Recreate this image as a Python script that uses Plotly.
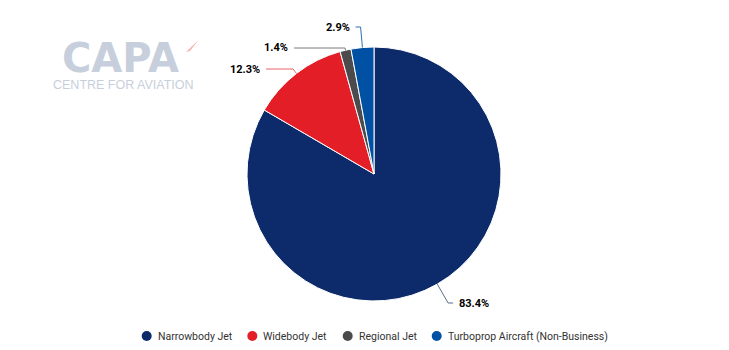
import math
import plotly.graph_objects as go

# ---- data ----
categories = ["Narrowbody Jet", "Widebody Jet", "Regional Jet", "Turboprop Aircraft (Non-Business)"]
shares = [83.4, 12.3, 1.4, 2.9]
pct_labels = ["83.4%", "12.3%", "1.4%", "2.9%"]

# ---- style ----
colors = ["#0d2b6b", "#e31e26", "#4b4b4d", "#0051a3"]
line_colors = ["#5a6b8c", "#e8646a", "#7a7a7a", "#2f6fb5"]
W, H = 729, 350
CX, CY, R = 374, 174, 127
# per-label style: label y (px) and horizontal connector length (px)
label_y = [303, 69, 48, 27]
conn_len = [5, 27, 51, 5]
# legend layout (px)
legend_marker_x = [146.7, 252.3, 347.7, 436.7]
legend_y = 336
logo_color = "#c8cfdc"


def px(x):
    return x / W


def py(y):
    return (H - y) / H


fig = go.Figure()
fig.add_trace(go.Pie(
    labels=categories, values=shares, sort=False, direction="clockwise", rotation=0,
    marker=dict(colors=colors, line=dict(color="white", width=1)),
    textinfo="none", hoverinfo="label+percent", showlegend=False,
    domain=dict(x=[px(CX - R), px(CX + R)], y=[py(CY + R), py(CY - R)]),
))

shapes = []
annotations = []
total = sum(shares)
cum = 0.0
for i, v in enumerate(shares):
    mid = (cum + v / 2) / total * 2 * math.pi
    cum += v
    s, c = math.sin(mid), math.cos(mid)
    x0, y0 = CX + R * s, CY - R * c
    rr = (CY - label_y[i]) / c
    xe, ye = CX + rr * s, label_y[i]
    side = 1 if s > 0 else -1
    xl = xe + side * conn_len[i]
    shapes.append(dict(type="path", xref="paper", yref="paper",
                       path=f"M {px(x0)} {py(y0)} L {px(xe)} {py(ye)} L {px(xl)} {py(ye)}",
                       line=dict(color=line_colors[i], width=1)))
    annotations.append(dict(xref="paper", yref="paper", x=px(xl + side * 4), y=py(ye),
                            text=f"<b>{pct_labels[i]}</b>", showarrow=False,
                            xanchor="left" if side > 0 else "right", yanchor="middle",
                            font=dict(family="Roboto", size=11, color="#000000")))

# legend (circle markers + labels)
for name, col, mx in zip(categories, colors, legend_marker_x):
    shapes.append(dict(type="circle", xref="paper", yref="paper",
                       x0=px(mx - 5), x1=px(mx + 5), y0=py(legend_y + 5), y1=py(legend_y - 5),
                       fillcolor=col, line=dict(width=0)))
    annotations.append(dict(xref="paper", yref="paper", x=px(mx + 9), y=py(legend_y),
                            text=name, showarrow=False, xanchor="left", yanchor="middle",
                            font=dict(family="Roboto", size=10.5, color="#333333")))

# watermark logo
annotations.append(dict(xref="paper", yref="paper", x=px(120), y=py(58), text="<b>CAPA</b>",
                        showarrow=False, xanchor="center", yanchor="middle",
                        font=dict(family="DejaVu Sans", size=40, color=logo_color)))
annotations.append(dict(xref="paper", yref="paper", x=px(51), y=py(85), text="CENTRE FOR AVIATION",
                        showarrow=False, xanchor="left", yanchor="middle",
                        font=dict(family="Liberation Sans", size=12.5, color=logo_color)))
shapes.append(dict(type="path", xref="paper", yref="paper",
                   path=f"M {px(186)} {py(52)} L {px(198.5)} {py(40)} L {px(190)} {py(51)} Z",
                   fillcolor="#f6b2ad", line=dict(width=0)))

fig.update_layout(
    width=W, height=H, margin=dict(l=0, r=0, t=0, b=0, autoexpand=False),
    paper_bgcolor="white", plot_bgcolor="white",
    showlegend=False,
    shapes=shapes, annotations=annotations,
)
fig.write_html("out.html")
